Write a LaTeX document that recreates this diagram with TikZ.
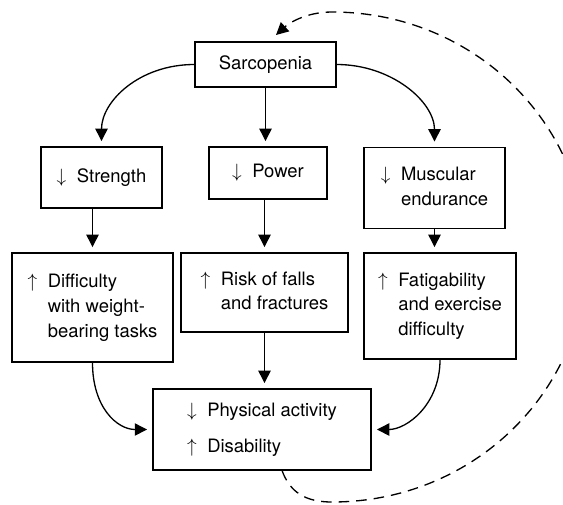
\documentclass[tikz,border=0pt]{standalone}
\usepackage{fontspec}
\setmainfont{TeX Gyre Heros}
\usetikzlibrary{arrows.meta}
\newcommand{\mydn}{$\downarrow$}
\newcommand{\myup}{$\uparrow$}
\begin{document}
\begin{tikzpicture}[x=0.02cm,y=-0.02cm,
  box/.style={draw,line width=0.8pt,inner sep=0pt,font=\fontsize{10.5}{13}\selectfont},
  arr/.style={line width=0.75pt,-{Triangle[length=7pt,width=7pt]},shorten >=3pt},
  fbarr/.style={line width=0.75pt,dash pattern=on 6pt off 4pt,-{Triangle[length=7pt,width=7pt]}}]
\useasboundingbox (0,0) rectangle (563,504);
\clip (0,0) rectangle (563,504);
\renewcommand{\arraystretch}{1.08}
\node[box,minimum width=2.82cm,minimum height=0.9cm] (sarc) at (265.5,64.5) {Sarcopenia};
\node[box,minimum width=2.42cm,minimum height=1.22cm] (str) at (101.5,177.5)
  {\begin{tabular}{@{}c@{\hspace{6pt}}l@{}}\mydn & Strength\end{tabular}};
\node[box,minimum width=2.36cm,minimum height=1.04cm] (pow) at (268,173)
  {\begin{tabular}{@{}c@{\hspace{6pt}}l@{}}\mydn & Power\end{tabular}};
\node[box,minimum width=2.82cm,minimum height=1.62cm] (mus) at (434.5,188)
  {\begin{tabular}{@{}c@{\hspace{6pt}}l@{}}\mydn & Muscular\\ & endurance\end{tabular}};
\node[box,minimum width=3.22cm,minimum height=2.18cm] (dif) at (92.5,307.5)
  {\begin{tabular}{@{}c@{\hspace{6pt}}l@{}}\myup & Difficulty\\ & with weight-\\ & bearing tasks\end{tabular}};
\node[box,minimum width=3.34cm,minimum height=1.58cm] (risk) at (264.5,292.5)
  {\begin{tabular}{@{}c@{\hspace{6pt}}l@{}}\myup & Risk of falls\\ & and fractures\end{tabular}};
\node[box,minimum width=3.04cm,minimum height=2.12cm] (fat) at (440,306)
  {\begin{tabular}{@{}c@{\hspace{6pt}}l@{}}\myup & Fatigability\\ & and exercise\\ & difficulty\end{tabular}};
\node[box,minimum width=4.36cm,minimum height=1.62cm] (phys) at (262,429.5)
  {\begin{tabular}{@{}c@{\hspace{6pt}}l@{}}\mydn & Physical activity\\[6pt] \myup & Disability\end{tabular}};
\coordinate (fbend) at (276,35);
% arrows
\draw[arr] (sarc.west) .. controls +(-55,0) and +(0,-45) .. (str.north);
\draw[arr] (sarc.east) .. controls +(55,0) and +(0,-45) .. (mus.north);
\draw[arr] (sarc.south) -- (sarc.south |- pow.north);
\draw[arr] (str.south -| dif.north) -- (dif.north);
\draw[arr] (risk.north |- pow.south) -- (risk.north);
\draw[arr] (mus.south) -- (mus.south |- fat.north);
\draw[arr] (risk.south) -- (risk.south |- phys.north);
\draw[arr] (dif.south) .. controls +(0,45) and +(-35,0) .. (phys.west);
\draw[arr] (fat.south) .. controls +(0,45) and +(35,0) .. (phys.east);
\draw[fbarr] (phys.296) .. controls (290,492) and (305,502) .. (332,502)
  .. controls (472.3,502) and (586,392.3) .. (586,257)
  .. controls (586,121.7) and (472.3,12) .. (332,12)
  .. controls (305,12) and (288,24) .. (fbend);
\end{tikzpicture}
\end{document}
